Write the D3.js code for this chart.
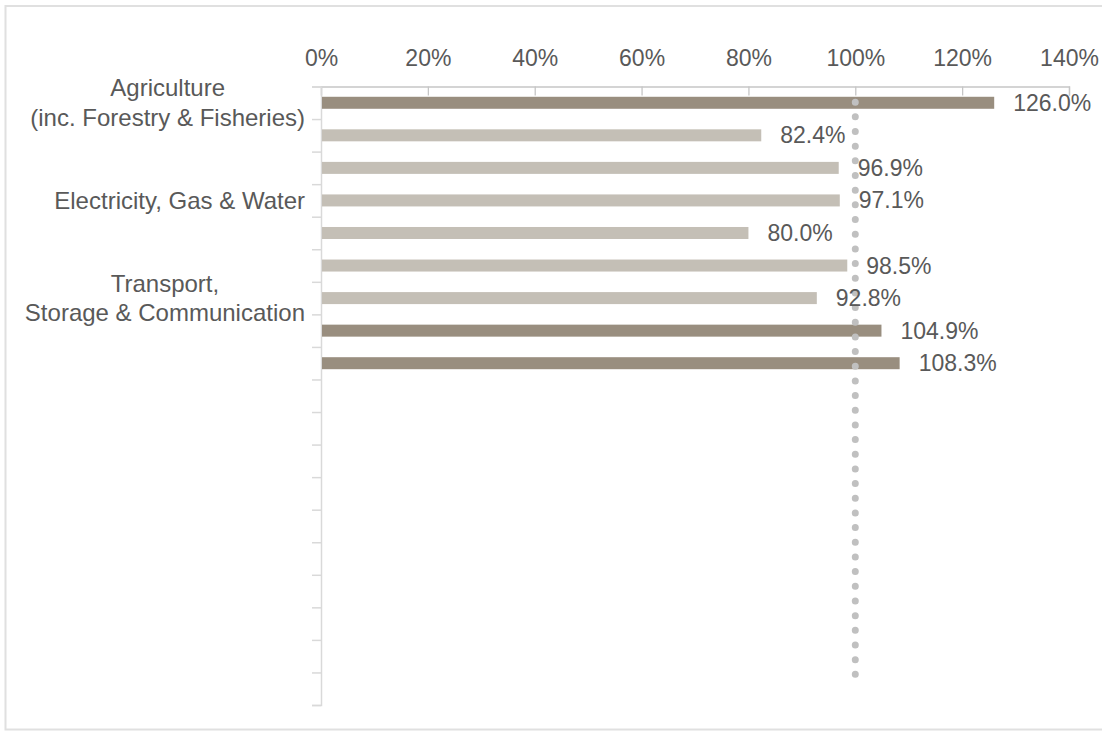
<!DOCTYPE html>
<html>
<head>
<meta charset="utf-8">
<script src="https://cdn.jsdelivr.net/npm/d3@7"></script>
<style>
  html, body { margin: 0; padding: 0; background: #ffffff; }
  svg { display: block; }
  text { font-family: "Liberation Sans", Arial, sans-serif; fill: #595959; }
</style>
</head>
<body>
<svg id="chart" width="1102" height="731"></svg>
<script>
// Row labels (only every third row carries a visible label; the rest are blank)
const rowLabels = [
  ["Agriculture", "(inc. Forestry & Fisheries)"], [], [],
  ["Electricity, Gas & Water"], [], [],
  ["Transport,", "Storage & Communication"], [], [],
  [], [], [], [], [], [], [], [], [], []
];
// Ratio values (%) for the filled rows, top to bottom
const values = [126.0, 82.4, 96.9, 97.1, 80.0, 98.5, 92.8, 104.9, 108.3];
// Axis ticks (%)
const xTicks = [0, 20, 40, 60, 80, 100, 120, 140];
// Reference level (%)
const referenceLevel = 100;

const colorAbove = "#998e7f";
const colorBelow = "#c4bfb6";

const svg = d3.select("#chart");
const plot = { left: 321, right: 1069, top: 86.5, bottom: 705 };

// outer frame
svg.append("rect")
  .attr("x", 5.5).attr("y", 6).attr("width", 1120).attr("height", 723.5)
  .attr("fill", "none").attr("stroke", "#e0e0e0").attr("stroke-width", 2);

const x = d3.scaleLinear().domain([0, 140]).range([plot.left, plot.right]);
const rows = d3.range(rowLabels.length);
const y = d3.scaleBand().domain(rows).range([plot.top, plot.bottom]).paddingInner(0).paddingOuter(0);
const yEdges = d3.scaleLinear().domain([0, rows.length]).range([plot.top, plot.bottom]);

// x axis along the top, ticks pointing into the plot
const xAxis = svg.append("g")
  .attr("transform", `translate(0,${plot.top})`)
  .call(d3.axisTop(x).tickValues(xTicks).tickSize(-9).tickPadding(21)
    .tickFormat(d => d + "%"));
xAxis.selectAll("path, line").attr("stroke", "#c6c6c6").attr("stroke-width", 1.3);
xAxis.selectAll("text").attr("font-size", 23).attr("fill", "#595959")
  .style("font-family", '"Liberation Sans", Arial, sans-serif');

// y axis with ticks at row boundaries
const yAxis = svg.append("g")
  .attr("transform", `translate(${plot.left},0)`)
  .call(d3.axisLeft(yEdges).tickValues(d3.range(rows.length + 1)).tickSize(9).tickFormat(""));
yAxis.selectAll("path, line").attr("stroke", "#d9d9d9").attr("stroke-width", 1.5);

// row labels: block right-aligned to the axis, lines centred within the block
const labelG = svg.append("g");
const labelRight = plot.left - 16;
rowLabels.forEach((lines, i) => {
  if (!lines.length) return;
  const cy = y(i) + y.bandwidth() / 2;
  const lh = 29.5;
  const t = labelG.append("text")
    .attr("text-anchor", "middle")
    .attr("font-size", 24);
  const spans = lines.map((ln, k) => t.append("tspan")
    .attr("y", cy + (k - (lines.length - 1) / 2) * lh)
    .attr("dy", "0.35em")
    .text(ln));
  const widest = d3.max(spans, s => s.node().getComputedTextLength());
  spans.forEach(s => s.attr("x", labelRight - widest / 2));
});

// bars
const barH = 12;
svg.append("g").selectAll("rect")
  .data(values)
  .join("rect")
  .attr("x", x(0) + 1)
  .attr("y", (d, i) => y(i) + y.bandwidth() / 2 - barH / 2)
  .attr("width", d => x(d) - x(0) - 1)
  .attr("height", barH)
  .attr("fill", d => d >= referenceLevel ? colorAbove : colorBelow);

// dotted reference line
svg.append("line")
  .attr("x1", x(referenceLevel)).attr("x2", x(referenceLevel))
  .attr("y1", y(0) + y.bandwidth() / 2 - 0.6)
  .attr("y2", plot.bottom - 27)
  .attr("stroke", "#c0c0c0")
  .attr("stroke-width", 7)
  .attr("stroke-linecap", "round")
  .attr("stroke-dasharray", "0 14.67");

// value labels
svg.append("g").selectAll("text")
  .data(values)
  .join("text")
  .attr("x", d => x(d) + 19)
  .attr("y", (d, i) => y(i) + y.bandwidth() / 2)
  .attr("dy", "0.35em")
  .attr("font-size", 23)
  .text(d => d.toFixed(1) + "%");
</script>
</body>
</html>
